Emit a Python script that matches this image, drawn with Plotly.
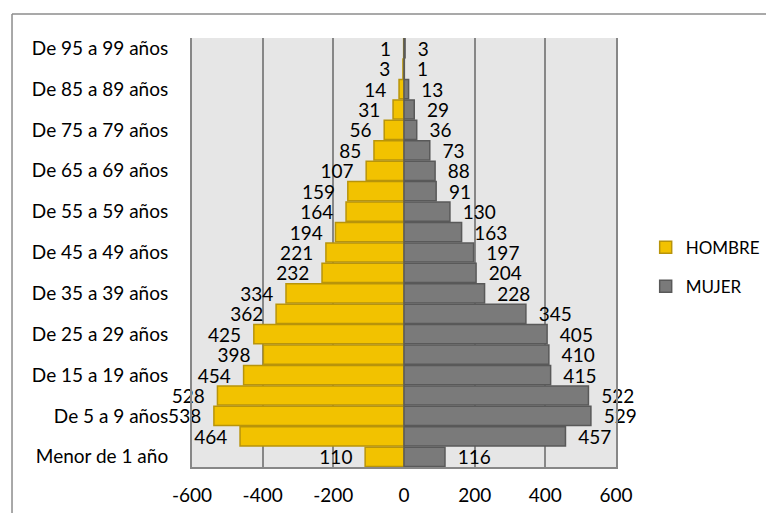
import plotly.graph_objects as go

categories = [
    "Menor de 1 año", "De 1 a 4 años", "De 5 a 9 años", "De 10 a 14 años",
    "De 15 a 19 años", "De 20 a 24 años", "De 25 a 29 años", "De 30 a 34 años",
    "De 35 a 39 años", "De 40 a 44 años", "De 45 a 49 años", "De 50 a 54 años",
    "De 55 a 59 años", "De 60 a 64 años", "De 65 a 69 años", "De 70 a 74 años",
    "De 75 a 79 años", "De 80 a 84 años", "De 85 a 89 años", "De 90 a 94 años",
    "De 95 a 99 años",
]
hombre = [110, 464, 538, 528, 454, 398, 425, 362, 334, 232, 221, 194, 164, 159, 107, 85, 56, 31, 14, 3, 1]
mujer = [116, 457, 529, 522, 415, 410, 405, 345, 228, 204, 197, 163, 130, 91, 88, 73, 36, 29, 13, 1, 3]
x_ticks = [-600, -400, -200, 0, 200, 400, 600]

FONT = "Lato"
FS = 19
NB = "\u00a0"

fig = go.Figure()
fig.add_trace(go.Bar(
    y=categories, x=[-v for v in hombre], orientation="h", name="HOMBRE",
    marker=dict(color="#F2C200", line=dict(color="#B8940A", width=1.5)),
    text=[f"{v}{NB*2}" for v in hombre], textposition="outside",
    textfont=dict(family=FONT, size=FS, color="#000000"),
    cliponaxis=False, constraintext="none", legendgroup="h",
))
fig.add_trace(go.Bar(
    y=categories, x=mujer, orientation="h", name="MUJER",
    marker=dict(color="#7A7A7A", line=dict(color="#595959", width=1.5)),
    text=[f"{NB*2}{v}" for v in mujer], textposition="outside",
    textfont=dict(family=FONT, size=FS, color="#000000"),
    cliponaxis=False, constraintext="none", legendgroup="m",
))

fig.update_layout(
    width=766, height=505,
    margin=dict(l=184, r=158, t=30, b=46, autoexpand=False),
    barmode="relative", bargap=0.06,
    paper_bgcolor="#FFFFFF", plot_bgcolor="#E6E6E6",
    font=dict(family=FONT, size=FS, color="#000000"),
    showlegend=True,
    legend=dict(x=1.07, y=0.466, xanchor="left", yanchor="middle",
                traceorder="grouped", tracegroupgap=14,
                font=dict(family=FONT, size=17, color="#000000"),
                bgcolor="rgba(0,0,0,0)"),
    xaxis=dict(range=[-600, 600], tickvals=x_ticks, ticktext=[str(t) for t in x_ticks],
               showgrid=True, gridcolor="#878787", gridwidth=1.5, zeroline=False,
               showline=True, linecolor="#878787", linewidth=2, ticks="",
               ticklabelstandoff=10, tickfont=dict(family=FONT, size=FS)),
    yaxis=dict(type="category", categoryorder="array", categoryarray=categories,
               tickvals=categories[::2], showgrid=False, zeroline=False,
               showline=True, mirror=True, linecolor="#878787", linewidth=2,
               ticks="", ticklabelstandoff=18, tickfont=dict(family=FONT, size=FS)),
    shapes=[
        dict(type="line", xref="paper", yref="paper", x0=-0.4245, x1=1.4, y0=1.056, y1=1.056,
             line=dict(color="#8C8C8C", width=1.5)),
        dict(type="line", xref="paper", yref="paper", x0=-0.4245, x1=-0.4245, y0=1.056, y1=-0.2,
             line=dict(color="#8C8C8C", width=1.5)),
    ],
)

fig.write_html("out.html")
